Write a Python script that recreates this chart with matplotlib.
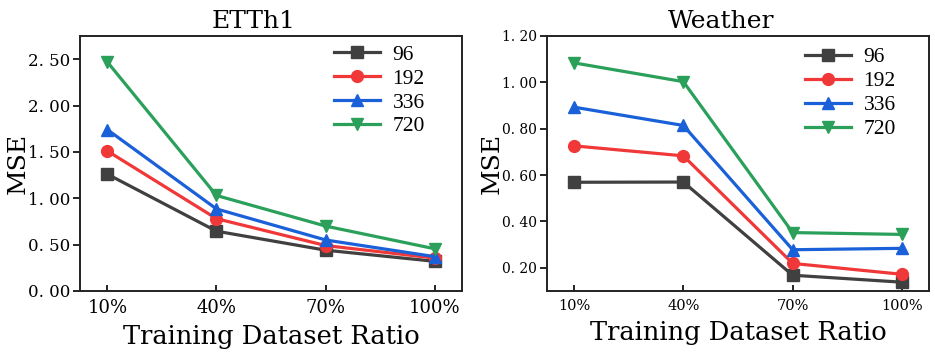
import matplotlib
matplotlib.use("Agg")
import matplotlib.pyplot as plt

ratios = ["10%", "40%", "70%", "100%"]
horizons = ["96", "192", "336", "720"]

etth1_96 = [1.26, 0.645, 0.44, 0.32]
etth1_192 = [1.51, 0.78, 0.49, 0.355]
etth1_336 = [1.74, 0.885, 0.55, 0.37]
etth1_720 = [2.47, 1.03, 0.70, 0.455]

weather_96 = [0.569, 0.570, 0.168, 0.138]
weather_192 = [0.726, 0.683, 0.219, 0.172]
weather_336 = [0.893, 0.814, 0.278, 0.284]
weather_720 = [1.084, 1.003, 0.352, 0.344]

etth1_ticks = [0.0, 0.5, 1.0, 1.5, 2.0, 2.5]
weather_ticks = [0.2, 0.4, 0.6, 0.8, 1.0, 1.2]

colors = ["#404040", "#f03838", "#1a60d8", "#2aa05a"]
markers = ["s", "o", "^", "v"]

serif = ["DejaVu Serif"]
legend_font = "Liberation Serif"

fig = plt.figure(figsize=(9.35, 3.57), dpi=100)
ax1 = fig.add_axes([0.0856, 0.1849, 0.4086, 0.7143])
ax2 = fig.add_axes([0.5847, 0.1849, 0.4092, 0.7143])


def draw(ax, series, title, yticks, ylim, ytick_fs, xtick_fs, ylabelpad,
         leg_anchor):
    x = list(range(len(ratios)))
    for vals, lab, c, m in zip(series, horizons, colors, markers):
        ax.plot(x, vals, color=c, marker=m, markersize=8.5, linewidth=2.3,
                label=lab)
    ax.set_xlim(-0.25, 3.25)
    ax.set_ylim(*ylim)
    ax.set_xticks(x)
    ax.set_xticklabels(ratios, fontsize=xtick_fs, family=serif)
    ax.set_yticks(yticks)
    ax.set_yticklabels([f"{v:.2f}".replace(".", ". ") for v in yticks],
                       fontsize=ytick_fs, family=serif)
    ax.tick_params(axis="x", direction="in", length=4, width=1.2, pad=6)
    ax.tick_params(axis="y", direction="out", length=5, width=1.2, pad=2)
    for s in ax.spines.values():
        s.set_linewidth(1.4)
        s.set_color("#222222")
    ax.set_title(title, fontsize=18, family=serif, x=0.455, pad=6)
    ax.set_xlabel("Training Dataset Ratio", fontsize=18.5, family=serif,
                  labelpad=5)
    ax.set_ylabel("MSE", fontsize=18, family=serif, labelpad=ylabelpad)
    ax.legend(loc="upper right", frameon=False, handlelength=2.1,
              prop={"family": legend_font, "size": 15.5},
              borderaxespad=0.0, labelspacing=0.18, handletextpad=0.6,
              bbox_to_anchor=leg_anchor)


draw(ax1, [etth1_96, etth1_192, etth1_336, etth1_720], "ETTh1",
     etth1_ticks, (0.0, 2.75), 12, 13, -1, (0.925, 1.0))
draw(ax2, [weather_96, weather_192, weather_336, weather_720], "Weather",
     weather_ticks, (0.1, 1.2), 10, 10.5, -1, (0.935, 0.99))

fig.savefig("out.png", dpi=100)
